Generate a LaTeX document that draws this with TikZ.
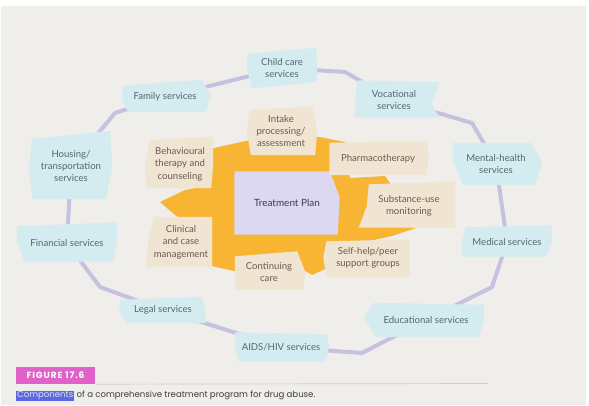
\documentclass[tikz,border=0pt]{standalone}
\usepackage{fontspec}
\setmainfont{Lato}
\newfontfamily\capfont{Poppins}
\usetikzlibrary{calc}
\pgfdeclarelayer{pagelayer}
\pgfdeclarelayer{ringlayer}
\pgfdeclarelayer{boxlayer}
\pgfdeclarelayer{bloblayer}
\pgfdeclarelayer{innerlayer}
\pgfsetlayers{pagelayer,ringlayer,boxlayer,bloblayer,innerlayer,main}
\definecolor{pagecol}{HTML}{EFEEEB}
\definecolor{ringcol}{HTML}{C7C1DF}
\definecolor{outerfill}{HTML}{D4EBEF}
\definecolor{outertext}{HTML}{4E6A74}
\definecolor{tanfill}{HTML}{F0E4D2}
\definecolor{tantext}{HTML}{6A5C4C}
\definecolor{blobcol}{HTML}{F8B534}
\definecolor{planfill}{HTML}{DCD8EF}
\definecolor{plantext}{HTML}{3F3858}
\definecolor{pinkcol}{HTML}{E062C8}
\definecolor{hlcol}{HTML}{5B68E0}
\definecolor{rulecol}{HTML}{D9C6D2}
\definecolor{captext}{HTML}{3C3C3C}
\newcommand\shp[8]{\fill[#2] ($(#1.north west)+(#3)$) -- ($(#1.north east)+(#4)$) -- ($(#1.east)+(#5)$) -- ($(#1.south east)+(#6)$) -- ($(#1.south west)+(#7)$) -- ($(#1.west)+(#8)$) -- cycle;}
\tikzset{
  sz/.style 2 args={minimum width=#1bp, minimum height=#2bp},
  outer/.style={inner sep=0pt, align=center, text=outertext, font=\fontsize{9.6}{12.5}\selectfont},
  inner/.style={inner sep=0pt, align=center, text=tantext, font=\fontsize{9.6}{12.5}\selectfont},
  ring/.style={draw=ringcol, line width=4bp, line join=round},
}
\begin{document}
\begin{tikzpicture}[x=1bp, y=-1bp]
\useasboundingbox (0,0) rectangle (589,405);
% outer services
\node[outer, sz={68}{40}] (child) at (282,68) {Child care\\services};
\node[outer, sz={85}{30}] (family) at (165,97) {Family services};
\node[outer, sz={78}{35}] (voc) at (394,100) {Vocational\\services};
\node[outer, sz={82}{66}] (housing) at (71,166) {Housing/\\transportation\\services};
\node[outer, sz={86}{42}] (mental) at (496,164) {Mental-health\\services};
\node[outer, sz={100}{37}] (financial) at (67,243) {Financial services};
\node[outer, sz={90}{29}] (medical) at (507,242) {Medical services};
\node[outer, sz={85}{26}] (legal) at (163,310) {Legal services};
\node[outer, sz={116}{34}] (edu) at (426,320) {Educational services};
\node[outer, sz={92}{29}] (aids) at (281,347) {AIDS/HIV services};
% inner components
\node[inner, sz={105}{63}, text=plantext, font=\fontsize{10}{12}\selectfont] (plan) at (287,203) {Treatment Plan};
\node[inner, sz={68}{48}] (intake) at (281,131) {Intake\\processing/\\assessment};
\node[inner, sz={66}{48}] (behav) at (180,164) {Behavioural\\therapy and\\counseling};
\node[inner, sz={97}{32}] (pharma) at (378,159) {Pharmacotherapy};
\node[inner, sz={92}{43}] (subst) at (409,206) {Substance-use\\monitoring};
\node[inner, sz={62}{50}] (clinical) at (181,242) {Clinical\\and case\\management};
\node[inner, sz={83}{37}] (selfhelp) at (368,258) {Self-help/peer\\support groups};
\node[inner, sz={68}{35}] (cont) at (269,272) {Continuing\\care};
% ring bends
\coordinate (b1) at (345,72);
\coordinate (b2) at (472,123);
\coordinate (b4) at (492,287);
\coordinate (b5) at (362,353);
\coordinate (b6) at (100,287);
\coordinate (b7) at (115,113);
% figure label
\node[fill=pinkcol, text=white, inner sep=0pt, sz={79}{17}, font=\capfont\bfseries\fontsize{9}{10}\selectfont\addfontfeatures{LetterSpace=10}] (fig) at (55.5,375.5) {FIGURE 17.6};
\coordinate (ruleend) at (488,383.5);
\node[fill=hlcol, text=white!80!hlcol, inner sep=1bp, anchor=west, font=\capfont\fontsize{8.6}{10}\selectfont] (comp) at (16,396) {Components};
\node[anchor=base west, inner sep=0pt, text=captext, font=\capfont\fontsize{8.6}{10}\selectfont] (capt) at ($(comp.base east)+(2,0)$) {of a comprehensive treatment program for drug abuse.};
\draw[rulecol, line width=0.7bp] (fig.south east) -- (ruleend);
% page
\begin{pgfonlayer}{pagelayer}
\fill[white] (0,0) rectangle (589,405);
\fill[pagecol] (1,6) rectangle (586,405);
\end{pgfonlayer}
% ring
\begin{pgfonlayer}{ringlayer}
\draw[ring] (family.center) -- (child.center) -- (b1) -- (voc.center) -- (b2) -- (mental.center) -- (medical.center) -- (b4) -- (edu.center) -- (b5) -- (aids.center) -- (legal.center) -- (b6) -- (financial.center) -- (housing.center) -- (b7) -- cycle;
\end{pgfonlayer}
% outer boxes
\begin{pgfonlayer}{boxlayer}
\shp{child}{outerfill}{0,6}{0,0}{1,0}{0,-6}{4,0}{-1,0}
\shp{family}{outerfill}{0,4}{-6,-2}{3,-2}{-2,0}{6,0}{0,4}
\shp{voc}{outerfill}{3,-2}{7,0}{-2,2}{6,0}{0,0}{0,0}
\shp{housing}{outerfill}{2,6}{-2,-2}{0,0}{-6,0}{3,0}{-1,4}
\shp{mental}{outerfill}{0,0}{-8,0}{3,-2}{-4,0}{10,0}{0,-4}
\shp{financial}{outerfill}{0,2}{0,-2}{0,0}{-4,0}{8,0}{0,0}
\shp{medical}{outerfill}{4,0}{0,-2}{0,0}{-6,0}{0,0}{0,0}
\shp{legal}{outerfill}{0,3}{-4,0}{0,0}{0,0}{6,0}{-1,0}
\shp{edu}{outerfill}{6,0}{0,2}{0,0}{-6,0}{8,0}{-4,-3}
\shp{aids}{outerfill}{0,0}{0,2}{2,0}{-2,0}{4,0}{0,0}
\end{pgfonlayer}
% orange blob
\begin{pgfonlayer}{bloblayer}
\fill[blobcol] (205,150) -- (250,140) -- (320,137) -- (345,142) -- (350,178) -- (385,176) -- (396,192) -- (400,225) -- (416,228) -- (392,236) -- (360,243) -- (340,262) -- (312,275) -- (290,262) -- (250,262) -- (238,272) -- (212,266) -- (205,235) -- (175,215) -- (160,202) -- (185,190) -- (205,186) -- cycle;
\end{pgfonlayer}
% inner boxes
\begin{pgfonlayer}{innerlayer}
\shp{plan}{planfill}{0,0}{-10,0}{0,-6}{-2,0}{0,0}{0,0}
\shp{intake}{tanfill}{3,3}{-3,0}{2,0}{0,0}{4,0}{0,0}
\shp{behav}{tanfill}{3,0}{0,-3}{0,0}{-2,0}{0,0}{-2,0}
\shp{pharma}{tanfill}{0,0}{0,-2}{2,0}{0,0}{0,0}{0,0}
\shp{subst}{tanfill}{6,0}{0,-3}{0,0}{0,0}{-4,0}{4,0}
\shp{clinical}{tanfill}{4,0}{0,0}{0,0}{0,0}{-4,0}{-2,0}
\shp{selfhelp}{tanfill}{0,2}{0,0}{0,0}{0,0}{0,0}{-3,0}
\shp{cont}{tanfill}{0,2}{-6,-3}{2,0}{0,0}{0,0}{0,0}
\end{pgfonlayer}
\end{tikzpicture}
\end{document}
